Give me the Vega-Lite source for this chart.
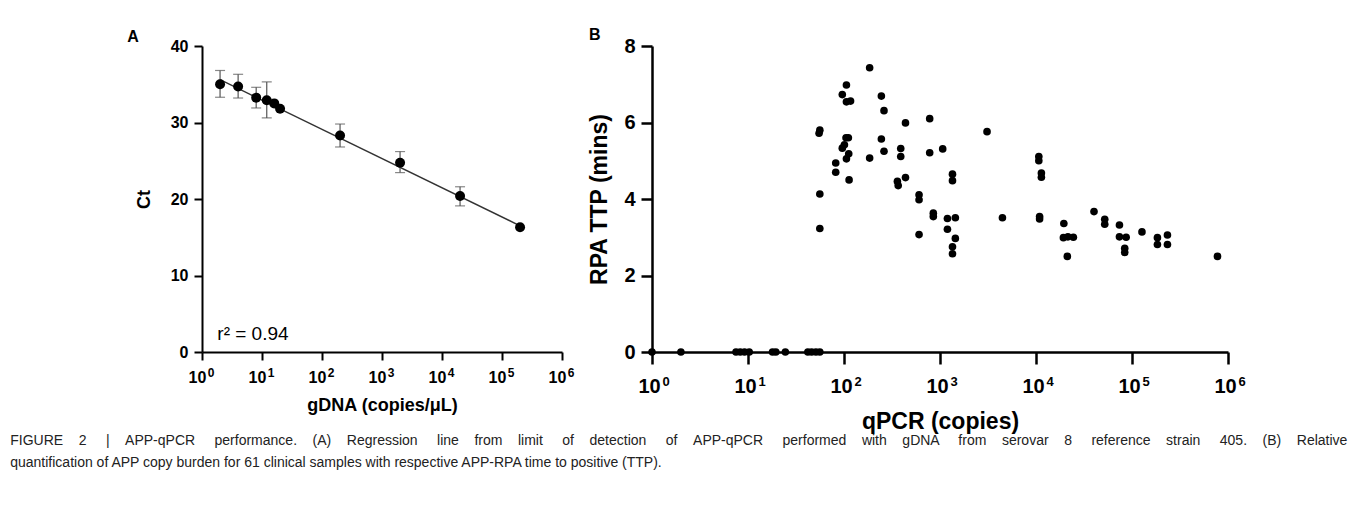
{
  "$schema": "https://vega.github.io/schema/vega-lite/v6.json",
  "background": "white",
  "padding": {"left": 10, "top": 27, "right": 5, "bottom": 5},
  "bounds": "flush",
  "spacing": 90,
  "config": {
    "view": {"stroke": null},
    "font": "Liberation Sans",
    "axis": {
      "grid": false,
      "domainColor": "black",
      "domainWidth": 2,
      "tickColor": "black",
      "tickWidth": 2,
      "labelColor": "black",
      "labelFont": "Liberation Sans",
      "labelFontWeight": "bold",
      "titleColor": "black",
      "titleFont": "Liberation Sans",
      "titleFontWeight": "bold"
    }
  },
  "title": {
    "text": [
      "FIGURE \u00a0\u00a0\u00a02 \u00a0\u00a0\u00a0\u00a0| \u00a0\u00a0\u00a0APP-qPCR \u00a0\u00a0\u00a0\u00a0performance. \u00a0\u00a0\u00a0(A) \u00a0\u00a0\u00a0Regression \u00a0\u00a0\u00a0\u00a0line \u00a0\u00a0\u00a0from \u00a0\u00a0\u00a0limit \u00a0\u00a0\u00a0\u00a0of \u00a0\u00a0\u00a0detection \u00a0\u00a0\u00a0\u00a0of \u00a0\u00a0\u00a0APP-qPCR \u00a0\u00a0\u00a0\u00a0performed \u00a0\u00a0\u00a0with \u00a0\u00a0\u00a0gDNA \u00a0\u00a0\u00a0\u00a0from \u00a0\u00a0\u00a0serovar \u00a0\u00a0\u00a08 \u00a0\u00a0\u00a0\u00a0reference \u00a0\u00a0\u00a0strain \u00a0\u00a0\u00a0\u00a0405. \u00a0\u00a0\u00a0(B) \u00a0\u00a0\u00a0Relative",
      "quantification of APP copy burden for 61 clinical samples with respective APP-RPA time to positive (TTP)."
    ],
    "orient": "bottom",
    "anchor": "start",
    "frame": "bounds",
    "fontSize": 14,
    "fontWeight": "normal",
    "font": "Liberation Sans",
    "color": "#222222",
    "lineHeight": 22,
    "offset": 1,
    "dx": -117
  },
  "datasets": {
    "aPoints": [
      {"copies": 2, "ct": 35.0},
      {"copies": 4, "ct": 34.7},
      {"copies": 8, "ct": 33.25},
      {"copies": 12, "ct": 32.9},
      {"copies": 16, "ct": 32.5},
      {"copies": 20, "ct": 31.8},
      {"copies": 200, "ct": 28.3},
      {"copies": 2000, "ct": 24.75},
      {"copies": 20000, "ct": 20.4},
      {"copies": 200000, "ct": 16.3}
    ],
    "aErrors": [
      {"copies": 2, "lo": 33.3, "hi": 36.8},
      {"copies": 4, "lo": 33.2, "hi": 36.3},
      {"copies": 8, "lo": 31.9, "hi": 34.6},
      {"copies": 12, "lo": 30.6, "hi": 35.3},
      {"copies": 200, "lo": 26.8, "hi": 29.8},
      {"copies": 2000, "lo": 23.45, "hi": 26.2},
      {"copies": 20000, "lo": 19.1, "hi": 21.6}
    ],
    "aLine": [
      {"copies": 2, "ct": 35.6},
      {"copies": 200000, "ct": 16.5}
    ],
    "aNote": [
      {"copies": 1.8, "ct": 2.3, "label": "r² = 0.94"}
    ],
    "exponents": [
      {"copies": 1, "e": "0"}, {"copies": 10, "e": "1"}, {"copies": 100, "e": "2"}, {"copies": 1000, "e": "3"},
      {"copies": 10000, "e": "4"}, {"copies": 100000, "e": "5"}, {"copies": 1000000, "e": "6"}
    ],
    "bPoints": [
      {"copies": 1, "ttp": 0}, {"copies": 2, "ttp": 0}, {"copies": 7.5, "ttp": 0}, {"copies": 8.3, "ttp": 0},
      {"copies": 9.2, "ttp": 0}, {"copies": 10.3, "ttp": 0}, {"copies": 18, "ttp": 0}, {"copies": 19.5, "ttp": 0},
      {"copies": 24.5, "ttp": 0}, {"copies": 42, "ttp": 0}, {"copies": 46, "ttp": 0}, {"copies": 51, "ttp": 0},
      {"copies": 56, "ttp": 0},
      {"copies": 56, "ttp": 5.8}, {"copies": 55, "ttp": 5.72}, {"copies": 56, "ttp": 4.13}, {"copies": 56, "ttp": 3.23},
      {"copies": 82, "ttp": 4.94}, {"copies": 82, "ttp": 4.7}, {"copies": 96, "ttp": 6.73}, {"copies": 106, "ttp": 6.98},
      {"copies": 106, "ttp": 6.54}, {"copies": 117, "ttp": 6.56}, {"copies": 96, "ttp": 5.33}, {"copies": 101, "ttp": 5.42},
      {"copies": 105, "ttp": 5.6}, {"copies": 111, "ttp": 5.6}, {"copies": 106, "ttp": 5.05}, {"copies": 112, "ttp": 5.18},
      {"copies": 113, "ttp": 4.5}, {"copies": 185, "ttp": 7.43}, {"copies": 185, "ttp": 5.07}, {"copies": 245, "ttp": 6.69},
      {"copies": 261, "ttp": 6.31}, {"copies": 245, "ttp": 5.57}, {"copies": 261, "ttp": 5.25}, {"copies": 390, "ttp": 5.32},
      {"copies": 390, "ttp": 5.11}, {"copies": 437, "ttp": 5.99}, {"copies": 437, "ttp": 4.56}, {"copies": 360, "ttp": 4.46},
      {"copies": 367, "ttp": 4.35}, {"copies": 605, "ttp": 4.11}, {"copies": 605, "ttp": 3.98}, {"copies": 605, "ttp": 3.07},
      {"copies": 781, "ttp": 6.1}, {"copies": 781, "ttp": 5.21}, {"copies": 852, "ttp": 3.63}, {"copies": 852, "ttp": 3.54},
      {"copies": 1067, "ttp": 5.31}, {"copies": 1349, "ttp": 4.65}, {"copies": 1349, "ttp": 4.48}, {"copies": 1195, "ttp": 3.49},
      {"copies": 1445, "ttp": 3.51}, {"copies": 1195, "ttp": 3.21}, {"copies": 1445, "ttp": 2.97}, {"copies": 1349, "ttp": 2.75},
      {"copies": 1349, "ttp": 2.57}, {"copies": 3090, "ttp": 5.76}, {"copies": 4470, "ttp": 3.51}, {"copies": 10700, "ttp": 5.11},
      {"copies": 10700, "ttp": 5.0}, {"copies": 11380, "ttp": 4.68}, {"copies": 11380, "ttp": 4.57}, {"copies": 10900, "ttp": 3.54},
      {"copies": 10900, "ttp": 3.48}, {"copies": 19500, "ttp": 3.36}, {"copies": 19300, "ttp": 2.99}, {"copies": 21500, "ttp": 3.01},
      {"copies": 24500, "ttp": 3.0}, {"copies": 21200, "ttp": 2.5}, {"copies": 40200, "ttp": 3.67}, {"copies": 52000, "ttp": 3.47},
      {"copies": 52000, "ttp": 3.34}, {"copies": 74000, "ttp": 3.32}, {"copies": 74000, "ttp": 3.01}, {"copies": 86900, "ttp": 3.0},
      {"copies": 84000, "ttp": 2.71}, {"copies": 84000, "ttp": 2.6}, {"copies": 127000, "ttp": 3.14}, {"copies": 184000, "ttp": 2.99},
      {"copies": 184000, "ttp": 2.81}, {"copies": 234000, "ttp": 3.06}, {"copies": 234000, "ttp": 2.81}, {"copies": 777000, "ttp": 2.5}
    ]
  },
  "hconcat": [
    {
      "width": 360,
      "height": 306,
      "title": {"text": "A", "anchor": "start", "frame": "bounds", "fontSize": 16, "fontWeight": "bold", "color": "black", "offset": -7, "dx": -8},
      "encoding": {
        "x": {
          "field": "copies",
          "type": "quantitative",
          "scale": {"type": "log", "domain": [1, 1000000], "nice": false},
          "axis": {
            "title": "gDNA (copies/μL)",
            "values": [1, 10, 100, 1000, 10000, 100000, 1000000],
            "labelExpr": "'10'",
            "labelOffset": -5,
            "labelFontSize": 16,
            "titleFontSize": 18,
            "tickSize": 8,
            "labelPadding": 9,
            "titlePadding": 11,
            "labelFlush": false
          }
        }
      },
      "layer": [
        {
          "data": {"name": "aLine"},
          "mark": {"type": "line", "color": "#333333", "strokeWidth": 1.4},
          "encoding": {
            "y": {
              "field": "ct",
              "type": "quantitative",
              "title": "Ct",
              "scale": {"domain": [0, 40], "nice": false},
              "axis": {
                "title": "Ct",
                "values": [0, 10, 20, 30, 40],
                "labelFontSize": 16,
                "titleFontSize": 18,
                "tickSize": 8,
                "labelPadding": 6,
                "titlePadding": 17
              }
            }
          }
        },
        {
          "data": {"name": "aErrors"},
          "mark": {"type": "errorbar", "color": "#555555", "thickness": 1.2, "ticks": {"size": 10, "color": "#555555", "thickness": 1.2}},
          "encoding": {
            "y": {"field": "lo", "type": "quantitative", "title": "Ct"},
            "y2": {"field": "hi"}
          }
        },
        {
          "data": {"name": "aPoints"},
          "mark": {"type": "point", "filled": true, "size": 100, "color": "black", "opacity": 1},
          "encoding": {
            "y": {"field": "ct", "type": "quantitative", "title": "Ct"}
          }
        },
        {
          "data": {"name": "aNote"},
          "mark": {"type": "text", "align": "left", "baseline": "middle", "fontSize": 19, "color": "black"},
          "encoding": {
            "y": {"field": "ct", "type": "quantitative", "title": "Ct"},
            "text": {"field": "label"}
          }
        },
        {
          "data": {"name": "exponents"},
          "mark": {"type": "text", "align": "center", "baseline": "middle", "fontSize": 12, "fontWeight": "bold", "color": "black", "dx": 9, "dy": 21},
          "encoding": {
            "y": {"datum": 0},
            "text": {"field": "e"}
          }
        }
      ]
    },
    {
      "width": 576,
      "height": 306,
      "title": {"text": "B", "anchor": "start", "frame": "bounds", "fontSize": 16, "fontWeight": "bold", "color": "black", "offset": -7},
      "encoding": {
        "x": {
          "field": "copies",
          "type": "quantitative",
          "scale": {"type": "log", "domain": [1, 1000000], "nice": false},
          "axis": {
            "title": "qPCR (copies)",
            "values": [1, 10, 100, 1000, 10000, 100000, 1000000],
            "labelExpr": "'10'",
            "labelOffset": -3,
            "labelFontSize": 20,
            "titleFontSize": 23,
            "tickSize": 12,
            "domainWidth": 2.5,
            "tickWidth": 2.5,
            "labelPadding": 12,
            "titlePadding": 14,
            "labelFlush": false
          }
        }
      },
      "layer": [
        {
          "data": {"name": "bPoints"},
          "mark": {"type": "point", "filled": true, "size": 58, "color": "black", "opacity": 1},
          "encoding": {
            "y": {
              "field": "ttp",
              "type": "quantitative",
              "scale": {"domain": [0, 8], "nice": false},
              "axis": {
                "title": "RPA TTP (mins)",
                "values": [0, 2, 4, 6, 8],
                "labelFontSize": 20,
                "titleFontSize": 23,
                "tickSize": 11,
                "domainWidth": 2.5,
                "tickWidth": 2.5,
                "labelPadding": 6,
                "titlePadding": 12
              }
            }
          }
        },
        {
          "data": {"name": "exponents"},
          "mark": {"type": "text", "align": "center", "baseline": "middle", "fontSize": 13, "fontWeight": "bold", "color": "black", "dx": 14, "dy": 30},
          "encoding": {
            "y": {"datum": 0},
            "text": {"field": "e"}
          }
        }
      ]
    }
  ]
}
